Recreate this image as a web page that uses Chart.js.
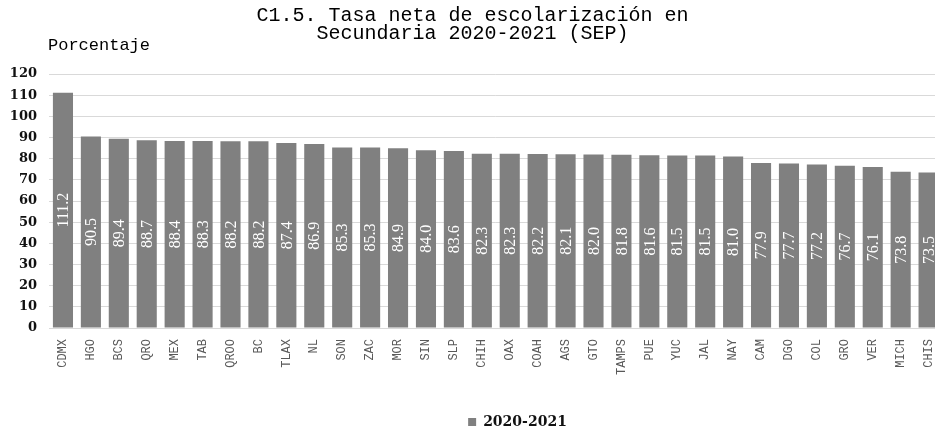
<!DOCTYPE html>
<html>
<head>
<meta charset="utf-8">
<script src="https://cdn.jsdelivr.net/npm/chart.js@4.4.0/dist/chart.umd.min.js"></script>
<style>
  html, body { margin: 0; padding: 0; background: #fff; overflow: hidden; }
  #wrap { position: relative; width: 946px; height: 429px; }
</style>
</head>
<body>
<div id="wrap"><canvas id="myChart"></canvas></div>
<script>
const estados = ["CDMX", "HGO", "BCS", "QRO", "MEX", "TAB", "QROO", "BC", "TLAX", "NL", "SON", "ZAC", "MOR", "SIN", "SLP", "CHIH",
  "OAX", "COAH", "AGS", "GTO", "TAMPS", "PUE", "YUC", "JAL", "NAY", "CAM", "DGO", "COL", "GRO", "VER", "MICH", "CHIS"];
const tasa2021 = [111.2, 90.5, 89.4, 88.7, 88.4, 88.3, 88.2, 88.2, 87.4, 86.9, 85.3, 85.3, 84.9, 84.0, 83.6, 82.3,
  82.3, 82.2, 82.1, 82.0, 81.8, 81.6, 81.5, 81.5, 81.0, 77.9, 77.7, 77.2, 76.7, 76.1, 73.8, 73.5];
const yTicks = [0, 10, 20, 30, 40, 50, 60, 70, 80, 90, 100, 110, 120];
const serieLabel = "2020-2021";
const tituloLineas = ["C1.5. Tasa neta de escolarización en", "Secundaria 2020-2021 (SEP)"];
const ejeY = "Porcentaje";

// white rotated value inside each bar
const barLabels = {
  id: "barLabels",
  afterDatasetsDraw(chart) {
    const ctx = chart.ctx;
    const meta = chart.getDatasetMeta(0);
    ctx.save();
    ctx.fillStyle = "#ffffff";
    ctx.font = "16px 'Liberation Serif'";
    ctx.textAlign = "center";
    ctx.textBaseline = "middle";
    meta.data.forEach((bar, i) => {
      const p = bar.getProps(["x", "y", "base"], true);
      ctx.save();
      ctx.translate(p.x, (p.y + p.base) / 2);
      ctx.rotate(-Math.PI / 2);
      ctx.fillText(tasa2021[i].toFixed(1), 0, 1);
      ctx.restore();
    });
    ctx.restore();
  }
};

// axis caption above the y axis + nudge legend right/down
const extras = {
  id: "extras",
  afterLayout(chart) {
    const lg = chart.legend;
    lg.left += 45;
    lg.right += 45;
    lg.top += 10;
    lg.bottom += 10;
  },
  afterDraw(chart) {
    const ctx = chart.ctx;
    ctx.save();
    ctx.fillStyle = "#000";
    ctx.font = "17px 'Liberation Mono'";
    ctx.textBaseline = "middle";
    ctx.fillText(ejeY, 48, 45);
    ctx.restore();
  }
};

new Chart(document.getElementById("myChart"), {
  type: "bar",
  data: {
    labels: estados,
    datasets: [{
      label: serieLabel,
      data: tasa2021,
      backgroundColor: "#808080",
      borderWidth: 0,
      categoryPercentage: 1,
      barPercentage: 0.72
    }]
  },
  options: {
    responsive: true,
    maintainAspectRatio: false,
    animation: false,
    layout: { padding: { left: 0, right: 1, top: 0, bottom: 0 } },
    plugins: {
      title: {
        display: true,
        text: tituloLineas,
        color: "#000",
        font: { family: "'Liberation Mono'", size: 20, weight: "normal", lineHeight: 0.9 },
        padding: { top: 7, bottom: 31 }
      },
      legend: {
        position: "bottom",
        labels: {
          boxWidth: 8,
          boxHeight: 8,
          padding: 6,
          color: "#111",
          font: { family: "'DejaVu Serif'", size: 14, weight: "bold" }
        }
      },
      tooltip: { enabled: false }
    },
    scales: {
      x: {
        grid: { display: false },
        border: { color: "#d9d9d9" },
        ticks: {
          minRotation: 90,
          maxRotation: 90,
          autoSkip: false,
          color: "#595959",
          font: { family: "'Liberation Mono'", size: 12 }
        },
        afterFit(scale) { scale.height = 71; }
      },
      y: {
        min: 0,
        max: 120,
        afterBuildTicks(scale) { scale.ticks = yTicks.map(v => ({ value: v })); },
        grid: { color: "#d9d9d9", drawTicks: false },
        border: { display: false },
        ticks: {
          padding: 12,
          color: "#111",
          font: { family: "'DejaVu Serif'", size: 13, weight: "bold" }
        },
        afterFit(scale) { scale.width = 49; }
      }
    }
  },
  plugins: [barLabels, extras]
});
</script>
</body>
</html>
